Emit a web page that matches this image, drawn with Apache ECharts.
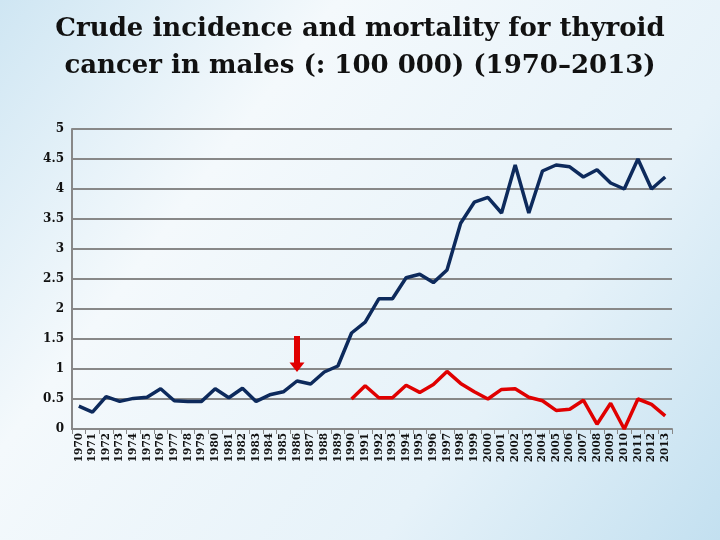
<!DOCTYPE html>
<html><head><meta charset="utf-8">
<script src="https://cdn.jsdelivr.net/npm/echarts@6/dist/echarts.min.js"></script>
<style>html,body{margin:0;padding:0}#c{width:720px;height:540px}</style>
</head><body><div id="c"></div>
<script>
var years = [];
for (var y = 1970; y <= 2013; y++) years.push(String(y));
var incidence = [0.38,0.28,0.54,0.46,0.51,0.53,0.67,0.47,0.46,0.46,0.67,0.52,0.68,0.46,0.57,0.62,0.80,0.75,0.95,1.05,1.60,1.78,2.17,2.17,2.52,2.58,2.44,2.65,3.43,3.78,3.86,3.60,4.40,3.60,4.30,4.40,4.37,4.20,4.32,4.10,4.00,4.50,4.00,4.20];
var mortality = [null,null,null,null,null,null,null,null,null,null,null,null,null,null,null,null,null,null,null,null,0.50,0.72,0.52,0.52,0.73,0.61,0.74,0.96,0.76,0.62,0.50,0.66,0.67,0.53,0.47,0.31,0.33,0.48,0.08,0.43,0.00,0.50,0.41,0.22];
var yTicks = ['0','0.5','1','1.5','2','2.5','3','3.5','4','4.5','5'];
var chart = echarts.init(document.getElementById('c'));
chart.setOption({
  backgroundColor: {type:'linear',x:0,y:0,x2:1,y2:1,colorStops:[{offset:0,color:'#cfe6f3'},{offset:0.3,color:'#f4f9fc'},{offset:0.7,color:'#e6f2f9'},{offset:1,color:'#c3e0f0'}]},
  title: {text:'Crude incidence and mortality for thyroid\ncancer in males (: 100 000) (1970\u20132013)', left:'center', top:6,
    textStyle:{fontFamily:'DejaVu Serif', fontWeight:'bold', fontSize:26, lineHeight:37, color:'#111'}},
  grid: {left:72, right:48, top:129, bottom:111},
  xAxis: {type:'category', data:years, boundaryGap:true,
    axisLine:{lineStyle:{color:'#888',width:2}}, axisTick:{show:true,lineStyle:{color:'#888'}},
    axisLabel:{rotate:90, interval:0, fontFamily:'DejaVu Serif', fontWeight:'bold', fontSize:10.5, color:'#111', margin:4}},
  yAxis: {type:'value', min:0, max:5, interval:0.5,
    axisLine:{show:true,lineStyle:{color:'#888',width:2}},
    splitLine:{lineStyle:{color:'#888',width:2}},
    axisLabel:{formatter:function(v){return String(v);}, fontFamily:'DejaVu Serif', fontWeight:'bold', fontSize:12, color:'#111'}},
  series: [
    {type:'line', data:incidence, symbol:'none', lineStyle:{color:'#0d2a5c',width:3.5}, z:3,
     markPoint:{symbol:'path://M3,0 L7,0 L7,22 L10,22 L5,30 L0,22 L3,22 Z', symbolSize:[15,36],
       itemStyle:{color:'#e00000'}, label:{show:false}, data:[{coord:['1986',1.25]}]}},
    {type:'line', data:mortality, symbol:'none', lineStyle:{color:'#e00000',width:3.5}, z:2}
  ]
});
</script></body></html>
